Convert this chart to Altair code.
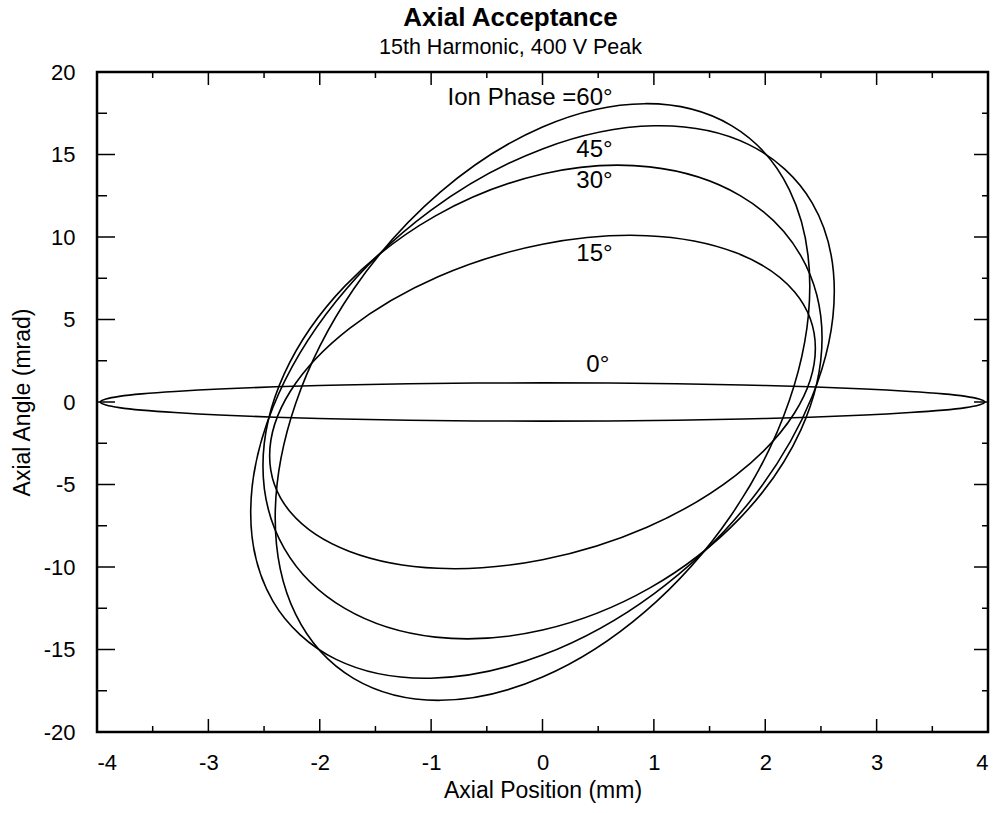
import altair as alt
import pandas as pd

# Axial phase-space acceptance ellipses, one per ion phase.
# Each curve is listed point by point: axial position (mm), axial angle (mrad).
x_00 = [3.97, 3.92, 3.8, 3.6, 3.3, 2.9, 2.4, 1.8, 1.2, 0.6, 0.0, -0.6, -1.2, -1.8, -2.4, -2.9, -3.3, -3.6, -3.8, -3.92,
        -3.97, -3.92, -3.8, -3.6, -3.3, -2.9, -2.4, -1.8, -1.2, -0.6, 0.0, 0.6, 1.2, 1.8, 2.4, 2.9, 3.3, 3.6, 3.8, 3.92]
y_00 = [0.0, 0.18, 0.34, 0.49, 0.64, 0.79, 0.92, 1.03, 1.11, 1.15, 1.16, 1.15, 1.11, 1.03, 0.92, 0.79, 0.64, 0.49, 0.34, 0.18,
        0.0, -0.18, -0.34, -0.49, -0.64, -0.79, -0.92, -1.03, -1.11, -1.15, -1.16, -1.15, -1.11, -1.03, -0.92, -0.79, -0.64, -0.49, -0.34, -0.18]

x_15 = [2.45, 2.264, 1.732, 0.938, 0.0, -0.938, -1.732, -2.264,
        -2.45, -2.264, -1.732, -0.938, 0.0, 0.938, 1.732, 2.264]
y_15 = [3.26, 6.67, 9.06, 10.08, 9.56, 7.59, 4.46, 0.65,
        -3.26, -6.67, -9.06, -10.08, -9.56, -7.59, -4.46, -0.65]

x_30 = [2.51, 2.319, 1.775, 0.961, 0.0, -0.961, -1.775, -2.319,
        -2.51, -2.319, -1.775, -0.961, 0.0, 0.961, 1.775, 2.319]
y_30 = [3.88, 8.87, 12.51, 14.25, 13.82, 11.28, 7.02, 1.70,
        -3.88, -8.87, -12.51, -14.25, -13.82, -11.28, -7.02, -1.70]

x_45 = [2.62, 2.421, 1.853, 1.003, 0.0, -1.003, -1.853, -2.421,
        -2.62, -2.421, -1.853, -1.003, 0.0, 1.003, 1.853, 2.421]
y_45 = [6.71, 12.07, 15.60, 16.74, 15.34, 11.61, 6.10, -0.33,
        -6.71, -12.07, -15.60, -16.74, -15.34, -11.61, -6.10, 0.33]

x_60 = [2.4, 2.217, 1.697, 0.918, 0.0, -0.918, -1.697, -2.217,
        -2.4, -2.217, -1.697, -0.918, 0.0, 0.918, 1.697, 2.217]
y_60 = [7.01, 12.86, 16.75, 18.08, 16.67, 12.72, 6.83, -0.10,
        -7.01, -12.86, -16.75, -18.08, -16.67, -12.72, -6.83, 0.10]

curves = {"0°": (x_00, y_00), "15°": (x_15, y_15), "30°": (x_30, y_30),
          "45°": (x_45, y_45), "60°": (x_60, y_60)}

# Curve labels
label_text = ["Ion Phase =60°", "45°", "30°", "15°", "0°"]
label_x = [0.63, 0.63, 0.63, 0.63, 0.6]
label_y = [18.4, 15.25, 13.4, 8.96, 2.24]

# Axis tick values
x_major = [-4, -3, -2, -1, 0, 1, 2, 3, 4]
x_minor = [-3.5, -2.5, -1.5, -0.5, 0.5, 1.5, 2.5, 3.5]
y_major = [-20, -15, -10, -5, 0, 5, 10, 15, 20]
y_minor = [-17.5, -12.5, -7.5, -2.5, 2.5, 7.5, 12.5, 17.5]

rows = []
for phase, (xs, ys) in curves.items():
    for i, (xv, yv) in enumerate(zip(xs, ys)):
        rows.append({"phase": phase, "i": i, "x": xv, "y": yv})
df = pd.DataFrame(rows)

W, H = 891, 660
FONT = "Liberation Sans"

xscale = alt.Scale(domain=[-4, 4], nice=False, zero=False)
yscale = alt.Scale(domain=[-20, 20], nice=False, zero=False)

xaxis = alt.Axis(title="Axial Position (mm)", values=x_major, ticks=False, domain=False, grid=False,
                 labelFontSize=22, labelPadding=20, labelExpr="'' + datum.value",
                 titleFontSize=23, titleFontWeight="normal", titlePadding=6)
yaxis = alt.Axis(title="Axial Angle (mrad)", values=y_major, ticks=False, domain=False, grid=False,
                 labelFontSize=22, labelPadding=22, labelExpr="'' + datum.value",
                 titleFontSize=23, titleFontWeight="normal", titlePadding=9)

# every layer shares the same field names and axis definitions
X = alt.X("x:Q", scale=xscale, axis=xaxis)
Y = alt.Y("y:Q", scale=yscale, axis=yaxis)

curves_layer = alt.Chart(df).mark_line(
    interpolate="cardinal-closed", color="black", strokeWidth=1.6
).encode(x=X, y=Y, detail="phase:N", order="i:Q")

labels_layer = alt.Chart(pd.DataFrame({"t": label_text, "x": label_x, "y": label_y})).mark_text(
    align="right", baseline="middle", fontSize=24, font=FONT, color="black"
).encode(x=X, y=Y, text="t:N")


def xticks(values, length):
    d = pd.DataFrame({"x": values})
    base = alt.Chart(d).mark_rule(color="black", strokeWidth=1.5)
    bottom = base.encode(x=X, y=alt.value(H), y2=alt.value(H - length))
    top = base.encode(x=X, y=alt.value(0), y2=alt.value(length))
    return [bottom, top]


def yticks(values, left_len, right_len):
    d = pd.DataFrame({"y": values})
    base = alt.Chart(d).mark_rule(color="black", strokeWidth=1.5)
    left = base.encode(y=Y, x=alt.value(0), x2=alt.value(left_len))
    right = base.encode(y=Y, x=alt.value(W), x2=alt.value(W - right_len))
    return [left, right]


tick_layers = (xticks(x_major, 13) + xticks(x_minor, 6) +
               yticks(y_major, 18, 14) + yticks(y_minor, 10, 6))

chart = alt.layer(curves_layer, labels_layer, *tick_layers).properties(
    width=W,
    height=H,
    autosize=alt.AutoSizeParams(type="none"),
    padding={"left": 97, "top": 72, "right": 6, "bottom": 81},
    title=alt.TitleParams(
        text="Axial Acceptance", subtitle="15th Harmonic, 400 V Peak",
        fontSize=26, fontWeight="bold", subtitleFontSize=21.5, font=FONT, subtitleFont=FONT,
        color="black", subtitleColor="black", anchor="middle", dx=-32, offset=3, subtitlePadding=6,
    ),
).configure(
    font=FONT, background="white"
).configure_view(
    stroke="black", strokeWidth=2.5
).configure_axis(
    labelColor="black", titleColor="black", labelFont=FONT, titleFont=FONT
)

chart.save("out.html", embed_options={"renderer": "svg", "actions": False})
